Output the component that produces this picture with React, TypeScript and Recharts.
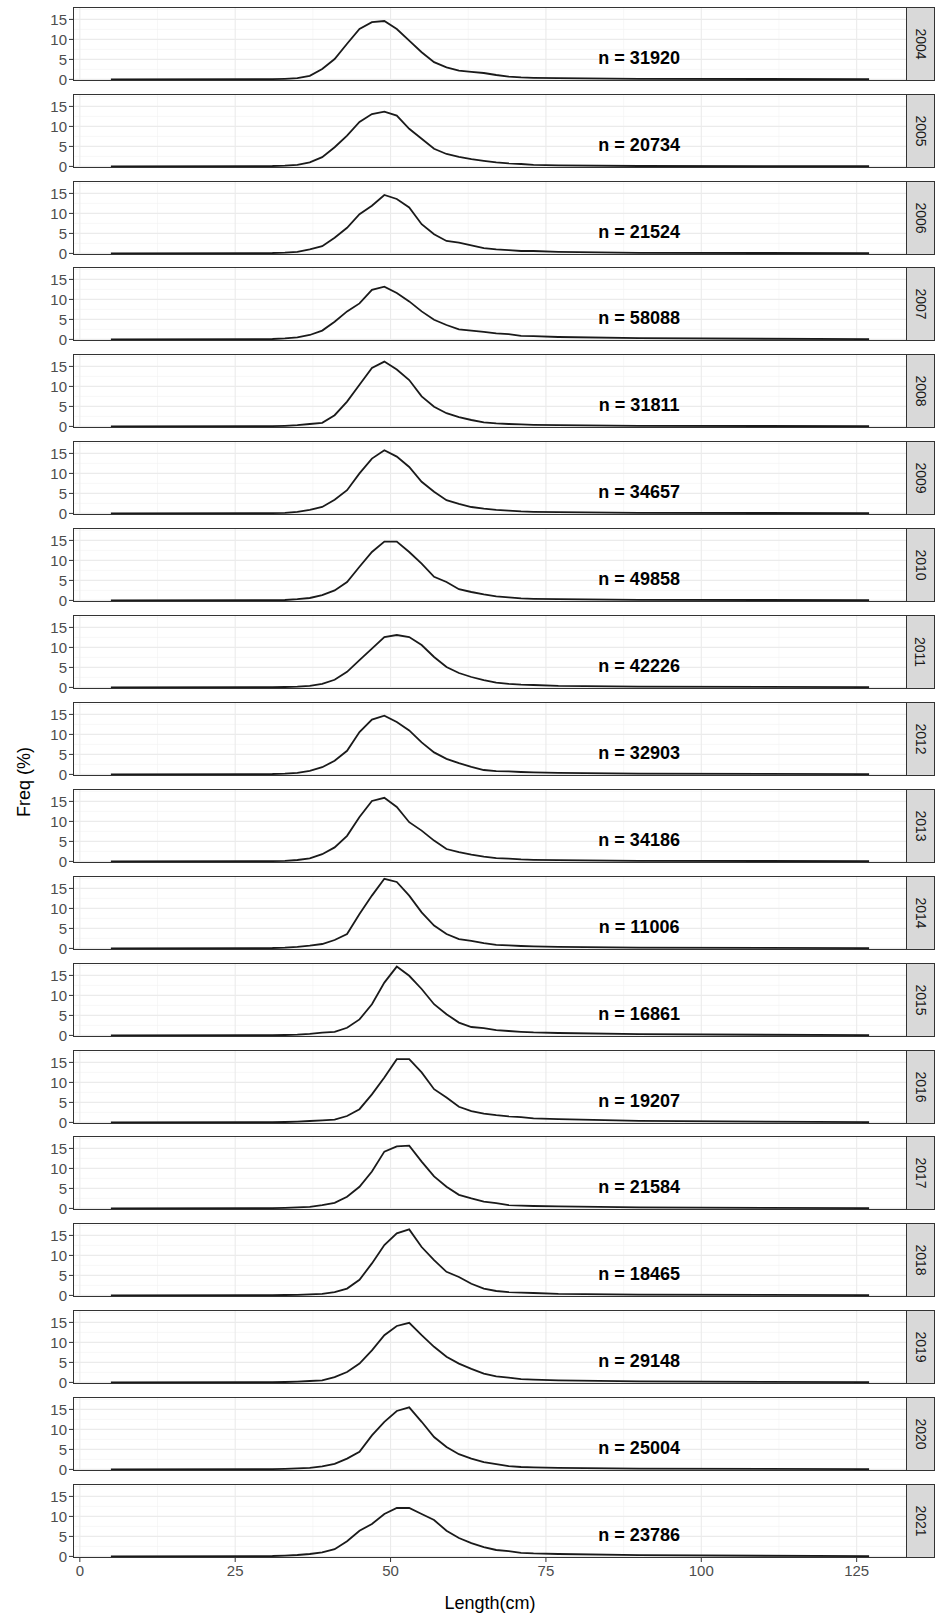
import { LineChart, Line, XAxis, YAxis, CartesianGrid, ReferenceDot } from 'recharts';

const lengths = [5, 31, 33, 35, 37, 39, 41, 43, 45, 47, 49, 51, 53, 55, 57, 59, 61, 63, 65, 67, 69, 71, 73, 77, 90, 127];

const years = ['2004', '2005', '2006', '2007', '2008', '2009', '2010', '2011', '2012', '2013', '2014', '2015', '2016', '2017', '2018', '2019', '2020', '2021'];

const sampleSizes = [31920, 20734, 21524, 58088, 31811, 34657, 49858, 42226, 32903, 34186, 11006, 16861, 19207, 21584, 18465, 29148, 25004, 23786];

const freq2004 = [0, 0.05, 0.15, 0.3, 0.9, 2.6, 5.1, 8.9, 12.6, 14.3, 14.6, 12.6, 9.7, 6.8, 4.3, 3.0, 2.2, 1.9, 1.6, 1.1, 0.7, 0.5, 0.4, 0.3, 0.15, 0.05];
const freq2005 = [0, 0.1, 0.2, 0.4, 1.0, 2.3, 4.8, 7.7, 11.1, 13.1, 13.7, 12.7, 9.4, 6.9, 4.4, 3.1, 2.4, 1.8, 1.4, 1.0, 0.75, 0.6, 0.4, 0.25, 0.1, 0.05];
const freq2006 = [0, 0.1, 0.2, 0.4, 1.0, 1.8, 3.9, 6.4, 9.8, 11.9, 14.6, 13.6, 11.5, 7.3, 4.8, 3.1, 2.7, 2.0, 1.3, 1.0, 0.8, 0.6, 0.6, 0.4, 0.15, 0.05];
const freq2007 = [0, 0.1, 0.25, 0.5, 1.1, 2.2, 4.4, 7.0, 9.0, 12.4, 13.2, 11.6, 9.5, 7.0, 4.9, 3.6, 2.5, 2.2, 1.9, 1.5, 1.3, 0.9, 0.8, 0.6, 0.3, 0.05];
const freq2008 = [0, 0.05, 0.15, 0.3, 0.6, 0.9, 2.8, 6.2, 10.4, 14.6, 16.2, 14.2, 11.6, 7.5, 4.9, 3.3, 2.3, 1.6, 1.0, 0.75, 0.6, 0.5, 0.4, 0.3, 0.15, 0.05];
const freq2009 = [0, 0.05, 0.15, 0.4, 0.9, 1.6, 3.4, 5.8, 10.0, 13.7, 15.8, 14.2, 11.6, 7.9, 5.4, 3.3, 2.4, 1.6, 1.2, 0.9, 0.7, 0.5, 0.4, 0.3, 0.15, 0.05];
const freq2010 = [0, 0.05, 0.1, 0.3, 0.6, 1.3, 2.5, 4.6, 8.4, 12.1, 14.7, 14.7, 12.1, 9.2, 5.9, 4.6, 2.8, 2.1, 1.5, 1.0, 0.75, 0.5, 0.4, 0.3, 0.15, 0.05];
const freq2011 = [0, 0.05, 0.1, 0.2, 0.4, 0.9, 1.9, 3.9, 6.8, 9.7, 12.6, 13.1, 12.6, 10.6, 7.6, 5.1, 3.6, 2.6, 1.8, 1.2, 0.9, 0.7, 0.6, 0.4, 0.2, 0.05];
const freq2012 = [0, 0.1, 0.2, 0.4, 0.9, 1.8, 3.4, 5.9, 10.6, 13.7, 14.7, 13.1, 11.0, 8.0, 5.5, 3.9, 2.8, 1.9, 1.1, 0.8, 0.75, 0.6, 0.5, 0.4, 0.2, 0.05];
const freq2013 = [0, 0.05, 0.15, 0.35, 0.75, 1.8, 3.5, 6.4, 11.1, 15.1, 15.9, 13.6, 9.8, 7.7, 5.2, 3.1, 2.3, 1.7, 1.2, 0.8, 0.7, 0.5, 0.4, 0.3, 0.15, 0.05];
const freq2014 = [0, 0.1, 0.2, 0.4, 0.7, 1.1, 2.1, 3.6, 8.6, 13.2, 17.4, 16.6, 13.2, 9.0, 5.7, 3.6, 2.3, 1.9, 1.3, 0.9, 0.75, 0.6, 0.5, 0.4, 0.2, 0.05];
const freq2015 = [0, 0.05, 0.1, 0.2, 0.4, 0.7, 0.9, 1.9, 4.0, 7.8, 13.2, 17.2, 14.9, 11.6, 7.8, 5.3, 3.2, 2.1, 1.8, 1.3, 1.1, 0.9, 0.75, 0.6, 0.3, 0.05];
const freq2016 = [0, 0.05, 0.1, 0.2, 0.35, 0.5, 0.7, 1.6, 3.3, 7.0, 11.2, 15.8, 15.8, 12.5, 8.3, 6.2, 3.9, 2.8, 2.2, 1.8, 1.5, 1.3, 1.0, 0.8, 0.4, 0.05];
const freq2017 = [0, 0.05, 0.15, 0.25, 0.4, 0.8, 1.4, 2.9, 5.4, 9.2, 14.2, 15.5, 15.7, 11.7, 8.0, 5.4, 3.4, 2.5, 1.7, 1.3, 0.8, 0.7, 0.6, 0.5, 0.25, 0.05];
const freq2018 = [0, 0.05, 0.1, 0.15, 0.25, 0.4, 0.8, 1.7, 3.9, 8.0, 12.6, 15.5, 16.5, 12.1, 8.8, 5.9, 4.6, 2.9, 1.7, 1.1, 0.8, 0.7, 0.6, 0.4, 0.2, 0.05];
const freq2019 = [0, 0.05, 0.1, 0.2, 0.35, 0.5, 1.3, 2.6, 4.7, 8.0, 11.8, 14.1, 14.9, 11.8, 8.9, 6.4, 4.7, 3.4, 2.2, 1.5, 1.2, 0.8, 0.7, 0.5, 0.25, 0.05];
const freq2020 = [0, 0.05, 0.15, 0.25, 0.4, 0.75, 1.4, 2.7, 4.4, 8.5, 11.9, 14.6, 15.5, 11.9, 8.1, 5.6, 3.8, 2.7, 1.8, 1.3, 0.8, 0.6, 0.5, 0.4, 0.2, 0.05];
const freq2021 = [0, 0.1, 0.2, 0.35, 0.6, 1.0, 1.8, 3.8, 6.4, 8.1, 10.6, 12.1, 12.1, 10.6, 9.1, 6.4, 4.6, 3.3, 2.3, 1.6, 1.3, 0.9, 0.75, 0.6, 0.3, 0.05];

const freqByYear = [
  freq2004, freq2005, freq2006, freq2007, freq2008, freq2009, freq2010, freq2011, freq2012,
  freq2013, freq2014, freq2015, freq2016, freq2017, freq2018, freq2019, freq2020, freq2021,
];

const xTicks = [0, 25, 50, 75, 100, 125];
const xMinor = [12.5, 37.5, 62.5, 87.5, 112.5];
const yTicks = [0, 5, 10, 15];
const yMinor = [2.5, 7.5, 12.5, 17.5];

const FONT = '"Liberation Sans", Arial, Helvetica, sans-serif';
const PLOT_LEFT = 73;
const PLOT_RIGHT = 907;
const PANEL_H = 74;
const PANEL_TOP = 6.7;
const PITCH = 86.9;

function Panel({ index }: { index: number }) {
  const last = index === years.length - 1;
  const data = lengths.map((x, i) => ({ x, y: freqByYear[index][i] }));
  const top = PANEL_TOP + PITCH * index;
  const extra = last ? 32 : 8;
  return (
    <div style={{ position: 'absolute', left: 0, top }}>
      <LineChart
        width={PLOT_RIGHT}
        height={PANEL_H + extra}
        data={data}
        margin={{ top: 0, right: 0, bottom: last ? 0 : 8, left: 0 }}
      >
        <CartesianGrid horizontalValues={yMinor} verticalValues={xMinor} stroke="#F2F2F2" strokeWidth={0.6} />
        <CartesianGrid horizontalValues={yTicks} verticalValues={xTicks} stroke="#EBEBEB" strokeWidth={1.1} />
        <XAxis
          dataKey="x"
          type="number"
          domain={[-1.1, 133.1]}
          ticks={xTicks}
          interval={0}
          hide={!last}
          height={32}
          axisLine={false}
          tickLine={{ stroke: '#333333' }}
          tickSize={4}
          tickMargin={3}
          tick={{ fill: '#4D4D4D', fontSize: 15, fontFamily: FONT }}
        />
        <YAxis
          type="number"
          domain={[-0.4, 18.1]}
          ticks={yTicks}
          interval={0}
          width={PLOT_LEFT}
          axisLine={false}
          tickLine={{ stroke: '#333333' }}
          tickSize={4}
          tickMargin={2}
          tick={{ fill: '#4D4D4D', fontSize: 15, fontFamily: FONT }}
        />
        <Line dataKey="y" type="linear" stroke="#1A1A1A" strokeWidth={1.8} dot={false} isAnimationActive={false} />
        <ReferenceDot
          x={90}
          y={5.4}
          r={0}
          fill="none"
          stroke="none"
          label={{ value: `n = ${sampleSizes[index]}`, position: 'center', fill: '#000', fontSize: 18, fontWeight: 'bold', fontFamily: FONT }}
        />
      </LineChart>
      <div
        style={{
          position: 'absolute', left: PLOT_LEFT, top: 0, width: PLOT_RIGHT - PLOT_LEFT, height: PANEL_H,
          border: '1px solid #333', boxSizing: 'border-box', pointerEvents: 'none',
        }}
      />
      <div
        style={{
          position: 'absolute', left: PLOT_RIGHT - 1, top: 0, width: 29, height: PANEL_H,
          background: '#D9D9D9', border: '1px solid #333', boxSizing: 'border-box',
          display: 'flex', alignItems: 'center', justifyContent: 'center',
        }}
      >
        <span style={{ transform: 'rotate(90deg)', fontFamily: FONT, fontSize: 14, color: '#1A1A1A', whiteSpace: 'nowrap' }}>
          {years[index]}
        </span>
      </div>
    </div>
  );
}

export default function App() {
  return (
    <div style={{ position: 'absolute', left: 0, top: 0, width: 936, height: 1616, background: '#fff', fontFamily: FONT }}>
      {years.map((y, i) => (
        <Panel key={y} index={i} />
      ))}
      <div
        style={{
          position: 'absolute', left: 24, top: 782, transform: 'translate(-50%, -50%) rotate(-90deg)',
          fontSize: 18, color: '#000', whiteSpace: 'nowrap',
        }}
      >
        Freq (%)
      </div>
      <div
        style={{
          position: 'absolute', left: (PLOT_LEFT + PLOT_RIGHT) / 2, top: 1603, transform: 'translate(-50%, -50%)',
          fontSize: 18, color: '#000', whiteSpace: 'nowrap',
        }}
      >
        Length(cm)
      </div>
    </div>
  );
}
